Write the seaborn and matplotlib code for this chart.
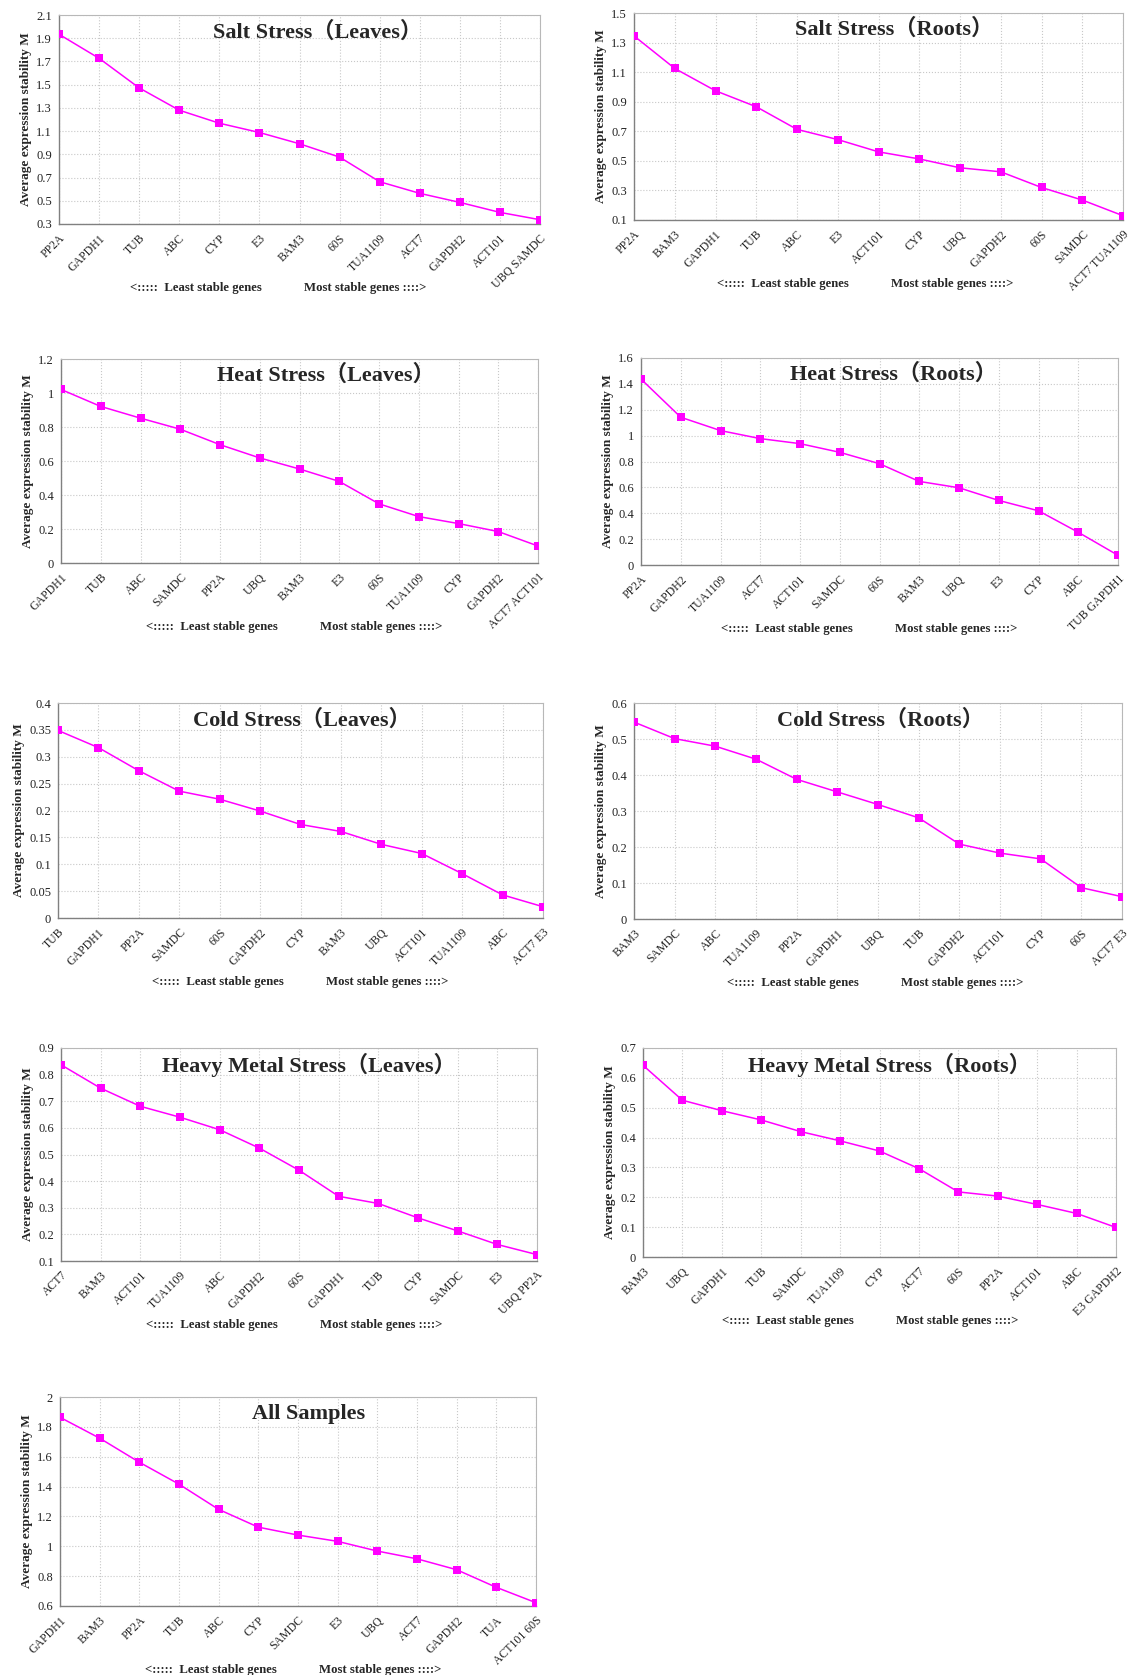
import matplotlib
matplotlib.use("Agg")
import matplotlib.pyplot as plt
import seaborn as sns
import pandas as pd
from matplotlib.ticker import FuncFormatter

#%% data (geNorm average expression stability M)

salt_leaves_genes = ["PP2A", "GAPDH1", "TUB", "ABC", "CYP", "E3", "BAM3", "60S",
                     "TUA1109", "ACT7", "GAPDH2", "ACT101", "UBQ SAMDC"]
salt_leaves_m = [1.934, 1.727, 1.472, 1.280, 1.168, 1.088, 0.991, 0.876,
                 0.664, 0.564, 0.486, 0.400, 0.337]

salt_roots_genes = ["PP2A", "BAM3", "GAPDH1", "TUB", "ABC", "E3", "ACT101", "CYP",
                    "UBQ", "GAPDH2", "60S", "SAMDC", "ACT7 TUA1109"]
salt_roots_m = [1.345, 1.125, 0.974, 0.866, 0.713, 0.644, 0.561, 0.513,
                0.453, 0.426, 0.320, 0.235, 0.129]

heat_leaves_genes = ["GAPDH1", "TUB", "ABC", "SAMDC", "PP2A", "UBQ", "BAM3", "E3",
                     "60S", "TUA1109", "CYP", "GAPDH2", "ACT7 ACT101"]
heat_leaves_m = [1.021, 0.921, 0.852, 0.787, 0.696, 0.618, 0.553, 0.480,
                 0.348, 0.273, 0.232, 0.185, 0.100]

heat_roots_genes = ["PP2A", "GAPDH2", "TUA1109", "ACT7", "ACT101", "SAMDC", "60S", "BAM3",
                    "UBQ", "E3", "CYP", "ABC", "TUB GAPDH1"]
heat_roots_m = [1.437, 1.142, 1.039, 0.977, 0.938, 0.871, 0.783, 0.646,
                0.597, 0.499, 0.419, 0.253, 0.075]

cold_leaves_genes = ["TUB", "GAPDH1", "PP2A", "SAMDC", "60S", "GAPDH2", "CYP", "BAM3",
                     "UBQ", "ACT101", "TUA1109", "ABC", "ACT7 E3"]
cold_leaves_m = [0.349, 0.317, 0.274, 0.236, 0.221, 0.199, 0.174, 0.161,
                 0.137, 0.120, 0.0825, 0.043, 0.021]

cold_roots_genes = ["BAM3", "SAMDC", "ABC", "TUA1109", "PP2A", "GAPDH1", "UBQ", "TUB",
                    "GAPDH2", "ACT101", "CYP", "60S", "ACT7 E3"]
cold_roots_m = [0.547, 0.501, 0.480, 0.444, 0.388, 0.353, 0.318, 0.281,
                0.208, 0.183, 0.167, 0.087, 0.062]

metal_leaves_genes = ["ACT7", "BAM3", "ACT101", "TUA1109", "ABC", "GAPDH2", "60S", "GAPDH1",
                      "TUB", "CYP", "SAMDC", "E3", "UBQ PP2A"]
metal_leaves_m = [0.837, 0.749, 0.681, 0.640, 0.593, 0.524, 0.441, 0.343,
                  0.316, 0.262, 0.213, 0.162, 0.124]

metal_roots_genes = ["BAM3", "UBQ", "GAPDH1", "TUB", "SAMDC", "TUA1109", "CYP", "ACT7",
                     "60S", "PP2A", "ACT101", "ABC", "E3 GAPDH2"]
metal_roots_m = [0.642, 0.525, 0.490, 0.459, 0.420, 0.389, 0.355, 0.296,
                 0.218, 0.204, 0.176, 0.146, 0.099]

all_genes = ["GAPDH1", "BAM3", "PP2A", "TUB", "ABC", "CYP", "SAMDC", "E3",
             "UBQ", "ACT7", "GAPDH2", "TUA", "ACT101 60S"]
all_m = [1.864, 1.724, 1.563, 1.416, 1.247, 1.128, 1.075, 1.033,
         0.968, 0.916, 0.843, 0.725, 0.622]

titles = ["Salt Stress（Leaves）", "Salt Stress（Roots）",
          "Heat Stress（Leaves）", "Heat Stress（Roots）",
          "Cold Stress（Leaves）", "Cold Stress（Roots）",
          "Heavy Metal Stress（Leaves）", "Heavy Metal Stress（Roots）",
          "All Samples"]

y_ranges = [(0.3, 2.1, 0.2), (0.1, 1.5, 0.2), (0, 1.2, 0.2), (0, 1.6, 0.2),
            (0, 0.4, 0.05), (0, 0.6, 0.1), (0.1, 0.9, 0.1), (0, 0.7, 0.1),
            (0.6, 2.0, 0.2)]

panels = [(salt_leaves_genes, salt_leaves_m), (salt_roots_genes, salt_roots_m),
          (heat_leaves_genes, heat_leaves_m), (heat_roots_genes, heat_roots_m),
          (cold_leaves_genes, cold_leaves_m), (cold_roots_genes, cold_roots_m),
          (metal_leaves_genes, metal_leaves_m), (metal_roots_genes, metal_roots_m),
          (all_genes, all_m)]

#%% layout (pixel boxes of each plot area: left, top, right, bottom)

W, H = 1129, 1675
boxes = [(59, 15, 540, 224), (634, 13, 1123, 220),
         (61, 359, 538, 563), (641, 358, 1118, 565),
         (58, 703, 543, 918), (634, 703, 1122, 919),
         (61, 1048, 537, 1261), (643, 1048, 1116, 1257),
         (60, 1397, 536, 1606)]
# x positions (axes fraction) of the in-plot title and of the "least / most stable" caption
title_x = [0.537, 0.531, 0.555, 0.529, 0.503, 0.504, 0.52, 0.52, 0.522]
caption_x = [0.455, 0.473, 0.488, 0.478, 0.50, 0.495, 0.49, 0.48, 0.49]

#%% plotting

sns.set_style("white")
serif = ["Liberation Serif", "DejaVu Serif"]
title_font = ["Liberation Serif", "Noto Sans CJK SC"]
plt.rcParams['font.family'] = serif

fig = plt.figure(figsize=(W / 100, H / 100), dpi=100)

for i, ((genes, m), title, (y0, y1, step), (l, t, r, b)) in enumerate(zip(panels, titles, y_ranges, boxes)):
    ax = fig.add_axes([l / W, 1 - b / H, (r - l) / W, (b - t) / H])
    df = pd.DataFrame({'gene': genes, 'M': m})
    sns.lineplot(data=df, x='gene', y='M', sort=False, marker='s', color='#ff00ff',
                 markersize=6, markeredgewidth=0, linewidth=1.1, ax=ax, zorder=3)

    n = len(genes)
    ax.set_xlim(0, n - 1)
    ax.set_ylim(y0, y1)
    nt = int(round((y1 - y0) / step))
    ax.set_yticks([y0 + k * step for k in range(nt + 1)])
    ax.yaxis.set_major_formatter(FuncFormatter(lambda v, p: "{:g}".format(round(v, 3))))
    ax.set_xticks(range(n))
    ax.set_xticklabels(genes, rotation=45, ha='right', rotation_mode='anchor', fontsize=8.5)
    ax.tick_params(axis='y', labelsize=9, length=3, width=0.8, color='#808080', direction='out', pad=2)
    ax.tick_params(axis='x', length=3, width=0.8, color='#808080', direction='in', pad=6)
    for lab in ax.get_xticklabels() + ax.get_yticklabels():
        lab.set_color('#222222')

    ax.grid(True, linestyle=':', color='#c8c8c8', linewidth=0.8)
    ax.set_axisbelow(True)
    for s in ['left', 'bottom']:
        ax.spines[s].set_color('#808080')
        ax.spines[s].set_linewidth(1.0)
    for s in ['top', 'right']:
        ax.spines[s].set_color('#b8b8b8')
        ax.spines[s].set_linewidth(0.8)
        ax.spines[s].set_visible(True)

    ax.set_xlabel('')
    ax.set_ylabel('Average expression stability M', fontsize=9.5, fontweight='bold', labelpad=3)
    ax.text(title_x[i], 0.92, title, transform=ax.transAxes, ha='center', va='center',
            fontsize=16, fontweight='bold', family=title_font)
    ax.annotate("<:::::  Least stable genes             Most stable genes ::::>",
                xy=(caption_x[i], 0), xycoords='axes fraction', xytext=(0, -46),
                textcoords='offset points', ha='center', va='center',
                fontsize=9.2, fontweight='bold')

fig.savefig('out.png', dpi=100)
